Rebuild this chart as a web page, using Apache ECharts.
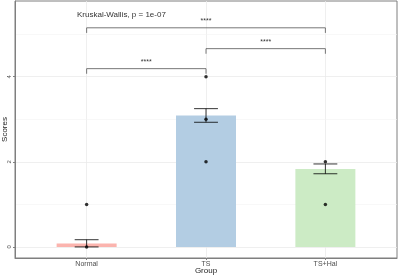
<!DOCTYPE html>
<html>
<head>
<meta charset="utf-8">
<script src="https://cdn.jsdelivr.net/npm/echarts@6/dist/echarts.min.js"></script>
<style>
  html, body { margin: 0; padding: 0; background: #fff; }
  #main { width: 401px; height: 276px; }
</style>
</head>
<body>
<div id="main"></div>
<script>
// groups and summary values
const groups = ['Normal', 'TS', 'TS+Hal'];
const barColors = ['#FBB4AE', '#B3CDE3', '#CCEBC5'];
const means = [0.08, 3.09, 1.83];
const errLow = [0.0, 2.93, 1.72];
const errHigh = [0.17, 3.25, 1.95];
// individual points [groupIndex, score]
const points = [[0, 0], [0, 1], [1, 2], [1, 3], [1, 4], [2, 1], [2, 2]];
// comparisons: [from, to, height, label]
const comparisons = [[0, 2, 5.15, '****'], [1, 2, 4.66, '****'], [0, 1, 4.19, '****']];
const yTicks = [0, 2, 4];
const yMinor = [1, 3, 5];

const chart = echarts.init(document.getElementById('main'), null, { renderer: 'canvas' });

const gridColor = '#ebebeb';
const textColor = '#4d4d4d';

chart.setOption({
    animation: false,
    title: {
        text: 'Kruskal-Wallis, p = 1e-07',
        left: 72, top: 6,
        textStyle: { fontSize: 8, fontWeight: 'normal', color: '#333', fontFamily: 'Liberation Sans' }
    },
    grid: {
        left: 15, right: 4, top: 1, bottom: 18,
        outerBoundsMode: 'none', containLabel: false,
        show: true, borderColor: '#7f7f7f', borderWidth: 1
    },
    xAxis: {
        type: 'value', min: -0.6, max: 2.6,
        name: 'Group', nameLocation: 'middle', nameGap: 9, nameMoveOverlap: false,
        nameTextStyle: { fontSize: 8, color: '#222', fontFamily: 'Liberation Sans' },
        axisLine: { show: true, onZero: false, lineStyle: { color: '#7f7f7f' } },
        axisTick: { show: true, length: 2, customValues: [0, 1, 2], lineStyle: { color: '#7f7f7f' } },
        axisLabel: {
            customValues: [0, 1, 2], fontSize: 7, color: textColor, margin: 3,
            fontFamily: 'Liberation Sans',
            formatter: v => groups[Math.round(v)]
        },
        splitLine: { show: true, lineStyle: { color: gridColor, width: 0.8 } }
    },
    yAxis: {
        type: 'value', min: -0.26, max: 5.78,
        name: 'Scores', nameLocation: 'middle', nameGap: 6, nameMoveOverlap: false,
        nameTextStyle: { fontSize: 8, color: '#222', fontFamily: 'Liberation Sans' },
        axisLine: { show: true, onZero: false, lineStyle: { color: '#7f7f7f' } },
        axisTick: { show: true, length: 2, customValues: yTicks, lineStyle: { color: '#7f7f7f' } },
        axisLabel: {
            customValues: yTicks, fontSize: 6, color: textColor, margin: 3, rotate: 90,
            fontFamily: 'Liberation Sans'
        },
        splitLine: { show: true, lineStyle: { color: gridColor, width: 0.8 } }
    },
    series: [
        {
            // minor gridlines
            type: 'line', data: [], silent: true, z: 0,
            markLine: {
                silent: true, symbol: 'none', label: { show: false }, z: 0,
                lineStyle: { color: '#f3f3f3', width: 0.6, type: 'solid' },
                data: yMinor.map(v => ({ yAxis: v }))
            }
        },
        {
            type: 'bar', barWidth: 60, z: 2,
            data: means.map((m, i) => ({ value: [i, m], itemStyle: { color: barColors[i] } }))
        },
        {
            type: 'custom', z: 3,
            data: groups.map((g, i) => [i, errLow[i], errHigh[i]]),
            renderItem: function (params, api) {
                const x = api.value(0);
                const lo = api.coord([x, api.value(1)]);
                const hi = api.coord([x, api.value(2)]);
                const l = api.coord([x - 0.1, 0])[0];
                const r = api.coord([x + 0.1, 0])[0];
                const style = { stroke: '#000', lineWidth: 0.8 };
                return {
                    type: 'group',
                    children: [
                        { type: 'line', shape: { x1: lo[0], y1: lo[1], x2: hi[0], y2: hi[1] }, style },
                        { type: 'line', shape: { x1: l, y1: lo[1], x2: r, y2: lo[1] }, style },
                        { type: 'line', shape: { x1: l, y1: hi[1], x2: r, y2: hi[1] }, style }
                    ]
                };
            }
        },
        {
            type: 'scatter', symbolSize: 3.5, z: 4,
            itemStyle: { color: '#000' },
            data: points
        },
        {
            type: 'custom', z: 4,
            data: comparisons,
            renderItem: function (params, api) {
                const a = api.value(0), b = api.value(1), h = api.value(2);
                const p1 = api.coord([a, h - 0.12]);
                const p2 = api.coord([a, h]);
                const p3 = api.coord([b, h]);
                const p4 = api.coord([b, h - 0.12]);
                return {
                    type: 'group',
                    children: [
                        {
                            type: 'polyline',
                            shape: { points: [p1, p2, p3, p4] },
                            style: { stroke: '#555', lineWidth: 0.8, fill: null }
                        },
                        {
                            type: 'text',
                            style: {
                                text: comparisons[params.dataIndex][3],
                                x: (p2[0] + p3[0]) / 2, y: p2[1] - 3,
                                align: 'center', verticalAlign: 'bottom',
                                fontSize: 7, fill: '#333', fontFamily: 'Liberation Sans'
                            }
                        }
                    ]
                };
            }
        }
    ]
});
</script>
</body>
</html>
